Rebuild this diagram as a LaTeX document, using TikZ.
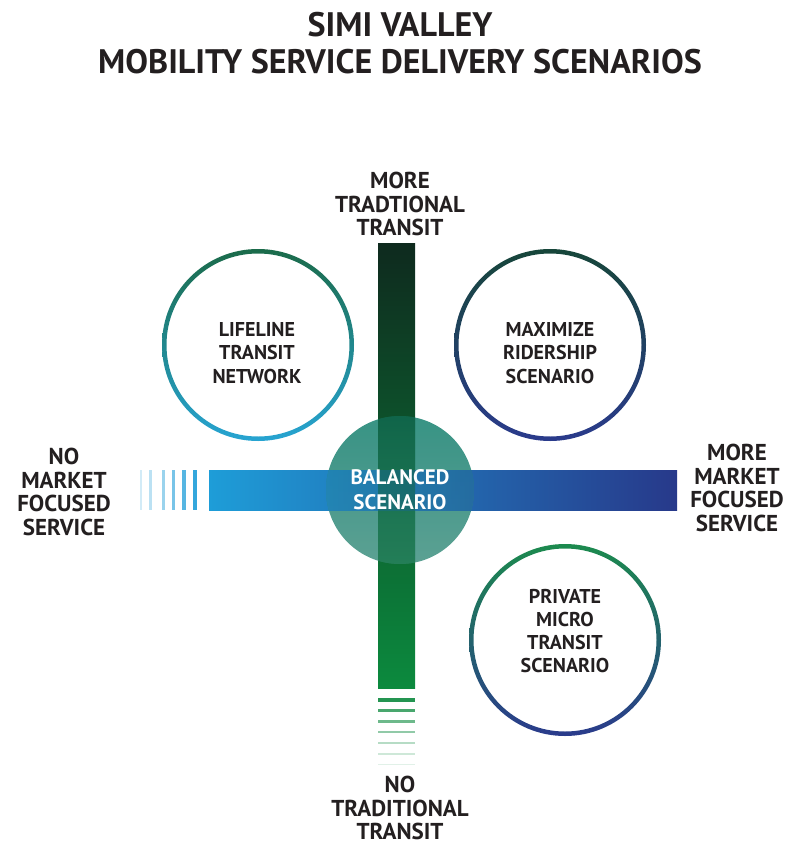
\documentclass[tikz,border=0pt]{standalone}
\usepackage{fontspec}
\setmainfont{PT Sans}
\usetikzlibrary{shapes}
\definecolor{ink}{HTML}{231F20}
\definecolor{axis_l}{HTML}{1E9DD8}
\definecolor{axis_r}{HTML}{27398A}
\definecolor{vert_t}{HTML}{0E2A1E}
\definecolor{vert_m}{HTML}{1B6446}
\definecolor{vert_b}{HTML}{0C8A3E}
\definecolor{ring_g}{HTML}{1B6B4A}
\definecolor{ring_dg}{HTML}{17463A}
\definecolor{ring_b}{HTML}{27A4D2}
\definecolor{ring_n}{HTML}{2A3B8C}
\definecolor{ring_lg}{HTML}{1C8A4E}
\definecolor{hub_t}{HTML}{15806F}
\definecolor{hub_m}{HTML}{6E86BC}
\definecolor{hub_b}{HTML}{3F9080}
\tikzset{
	axis_txt/.style = {
		align=center,
		inner sep=0pt,
		text=ink,
		font=\bfseries\fontsize{23}{23.5}\selectfont
	},
	title_txt/.style = {
		axis_txt,
		font=\bfseries\fontsize{34}{37}\selectfont
	},
	scen_txt/.style = {
		axis_txt,
		font=\bfseries\fontsize{20}{23.3}\selectfont
	},
	ring/.style = {
		even odd rule
	},
	hub_disc/.style = {
		top color=hub_t,
		middle color=hub_m,
		bottom color=hub_b,
		fill opacity=0.85
	},
	hub_node/.style = {
		circle,
		minimum size=148pt,
		inner sep=0pt,
		align=center,
		text=white,
		font=\bfseries\fontsize{21}{25}\selectfont
	}
}

\begin{document}
\begin{tikzpicture}[x=1pt,y=-1pt]
\useasboundingbox (0,0) rectangle (794,846);
\node [title_txt] (title) at (400,43.5) {SIMI VALLEY\\MOBILITY SERVICE DELIVERY SCENARIOS};

% market axis
\shade [left color=axis_l, right color=axis_r] (209,470) rectangle (677,510);
\foreach \x/\w/\o in {140/2/0.2, 149/3/0.3, 162/3/0.45, 172/3/0.6, 182/4/0.75, 193/4/0.9}
	\fill [axis_l, opacity=\o] (\x,470) rectangle ++(\w,40);

% transit axis
\shade [top color=vert_t, middle color=vert_m, bottom color=vert_b] (378,243) rectangle (415,688);
\foreach \y/\h/\o in {698/4/0.9, 709/3/0.75, 720/3/0.6, 731/2/0.45, 742/2/0.3, 753/1.5/0.2, 764/1/0.12}
	\fill [vert_b, opacity=\o] (378,\y) rectangle ++(37,\h);

% balanced scenario
\coordinate (c_hub) at (400,490);
\shade [hub_disc] (c_hub) circle (74pt);
\begin{scope}
	\clip (c_hub) circle (74pt);
	\shade [left color=axis_l, right color=axis_r, opacity=0.75] (209,470) rectangle (677,510);
	\shade [top color=vert_t, middle color=vert_m, bottom color=vert_b, opacity=0.45] (378,243) rectangle (415,688);
\end{scope}
\node [hub_node] (hub) at (400,490) {BALANCED\\SCENARIO};

% scenarios
\coordinate (c_life) at (258,345);
\coordinate (c_max) at (550,345);
\coordinate (c_micro) at (565,640);
\shade [ring, shading angle=15, top color=ring_g, bottom color=ring_b] (c_life) circle (96pt) (c_life) circle (91.5pt);
\shade [ring, shading angle=-45, top color=ring_dg, bottom color=ring_n] (c_max) circle (96pt) (c_max) circle (91.5pt);
\shade [ring, shading angle=-60, top color=ring_lg, bottom color=ring_n] (c_micro) circle (96pt) (c_micro) circle (91.5pt);
\node [scen_txt] (life) at (257,353) {LIFELINE\\TRANSIT\\NETWORK};
\node [scen_txt] (max) at (550,353) {MAXIMIZE\\RIDERSHIP\\SCENARIO};
\node [scen_txt] (micro) at (565,631) {PRIVATE\\MICRO\\TRANSIT\\SCENARIO};

% axis ends
\node [axis_txt] (more_trans) at (400,204) {MORE\\TRADTIONAL\\TRANSIT};
\node [axis_txt] (no_trans) at (400,808) {NO\\TRADITIONAL\\TRANSIT};
\node [axis_txt] (no_market) at (64,492) {NO\\MARKET\\FOCUSED\\SERVICE};
\node [axis_txt] (more_market) at (737,488) {MORE\\MARKET\\FOCUSED\\SERVICE};
\end{tikzpicture}
\end{document}
